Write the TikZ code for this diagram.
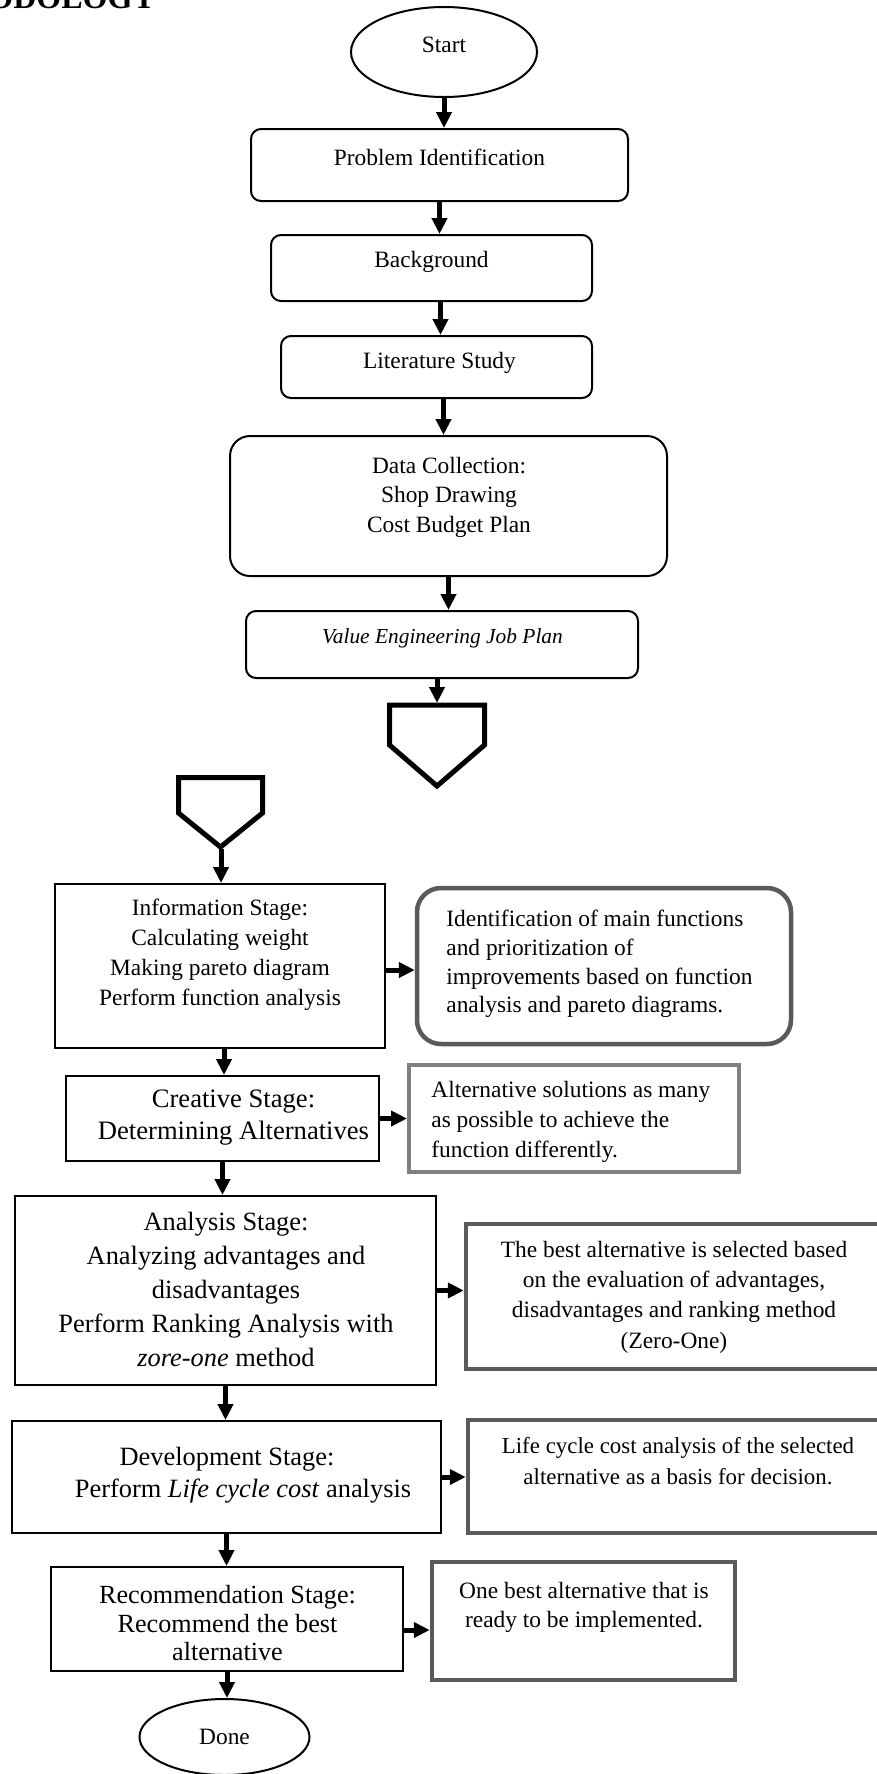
\documentclass[tikz,border=0pt]{standalone}
\usepackage{fontspec}
\setmainfont{Liberation Serif}
\usetikzlibrary{arrows.meta,shapes.geometric,calc}
\definecolor{gA}{HTML}{5A5A5A}
\definecolor{gB}{HTML}{808080}
\newdimen\pxu \pxu=0.5pt
\begin{document}
\begin{tikzpicture}[x=0.5pt,y=-0.5pt,
  arr/.style={line width=2.5pt,-{Triangle[length=8pt,width=7.5pt]}},
  rbox/.style={draw,line width=1pt,rounded corners=5pt,inner sep=0pt},
  sbox/.style={draw,line width=1pt,inner sep=0pt},
  gbox/.style={draw=gA,line width=2.25pt,inner sep=0pt},
  oval/.style={ellipse,draw,line width=1pt,inner sep=0pt},
  txt/.style={inner sep=0pt,align=center},
  fs/.style={font=\fontsize{11.7}{14.6}\selectfont},
  fl/.style={font=\fontsize{13.2}{16.5}\selectfont},
  conn/.style={line width=2.5pt,line join=miter}
]
\fill[white] (0,0) rectangle (877,1774);
\useasboundingbox (0,0) rectangle (877,1774);

% cut-off heading
\node[anchor=base west,inner sep=0pt,font=\bfseries\fontsize{16}{16}\selectfont] (title) at (-12,8) {ODOLOGY};

% ---------- upper part ----------
\node[oval,minimum width=186\pxu,minimum height=90\pxu] (start) at (444,52) {};
\node[txt,fs] (startt) at (444,45) {Start};

\node[rbox,minimum width=377\pxu,minimum height=72\pxu] (prob) at (439.5,165) {};
\node[txt,fs] (probt) at (439.5,157) {Problem Identification};

\node[rbox,minimum width=321\pxu,minimum height=66\pxu] (bg) at (431.5,268) {};
\node[txt,fs] (bgt) at (431.5,262) {Background};

\node[rbox,minimum width=311\pxu,minimum height=62\pxu] (lit) at (436.5,367) {};
\node[txt,fs] (litt) at (439.5,363) {Literature Study};

\node[sbox,rounded corners=10pt,minimum width=437\pxu,minimum height=140\pxu] (data) at (448.5,506) {};
\node[txt,font=\fontsize{11.7}{14.75}\selectfont] (datat) at (449,497) {Data Collection:\\Shop Drawing\\Cost Budget Plan};

\node[rbox,minimum width=392\pxu,minimum height=67\pxu] (ve) at (442,644.5) {};
\node[txt,font=\itshape\fontsize{10.7}{13}\selectfont] (vet) at (442.5,638) {Value Engineering Job Plan};

% off-page connectors
\draw[conn] (389.5,745) -- (389.5,705) -- (484.5,705) -- (484.5,745) -- (437,786) -- cycle;
\coordinate (c1) at (437,703);
\draw[conn] (178.5,813) -- (178.5,777.5) -- (262.5,777.5) -- (262.5,813) -- (220.5,847) -- cycle;
\coordinate (c2) at (221,849);

% ---------- lower part ----------
\node[sbox,minimum width=330\pxu,minimum height=164\pxu] (info) at (220,966) {};
\node[txt,font=\fontsize{11.7}{15}\selectfont] (infot) at (220,955) {Information Stage:\\Calculating weight\\Making pareto diagram\\Perform function analysis};

\node[gbox,rounded corners=12pt,minimum width=374\pxu,minimum height=156\pxu] (r1) at (604,966) {};
\node[inner sep=0pt,align=left,anchor=west,font=\fontsize{11.7}{14.35}\selectfont] (r1t) at (446,964) {Identification of main functions\\and prioritization of\\improvements based on function\\analysis and pareto diagrams.};

\node[sbox,minimum width=313\pxu,minimum height=85\pxu] (cre) at (222.5,1118.5) {};
\node[txt,font=\fontsize{13.3}{16}\selectfont] (cret) at (233.5,1118) {Creative Stage:\\Determining Alternatives};

\node[gbox,draw=gB,line width=2pt,minimum width=330\pxu,minimum height=107\pxu] (r2) at (574,1118.5) {};
\node[inner sep=0pt,align=left,anchor=west,font=\fontsize{11.7}{15}\selectfont] (r2t) at (431,1122) {Alternative solutions as many\\as possible to achieve the\\function differently.};

\node[sbox,minimum width=421\pxu,minimum height=189\pxu] (ana) at (225.5,1290.5) {};
\node[txt,font=\fontsize{13.2}{16.9}\selectfont] (anat) at (226,1289.5) {Analysis Stage:\\Analyzing advantages and\\disadvantages\\Perform Ranking Analysis with\\\textit{zore-one} method};

\node[gbox,minimum width=436\pxu,minimum height=145\pxu] (r3) at (684,1296.5) {};
\node[txt,font=\fontsize{11.7}{15.2}\selectfont] (r3t) at (674,1297) {The best alternative is selected based\\on the evaluation of advantages,\\disadvantages and ranking method\\(Zero-One)};

\node[sbox,minimum width=429\pxu,minimum height=112\pxu] (dev) at (226.5,1477) {};
\node[txt,font=\fontsize{13.2}{16}\selectfont] (devt) at (227,1475) {Development Stage:\\\hspace*{16pt}Perform \textit{Life cycle cost} analysis};

\node[gbox,minimum width=434\pxu,minimum height=113\pxu] (r4) at (685,1476.5) {};
\node[txt,font=\fontsize{11.45}{15.5}\selectfont] (r4t) at (678,1461.5) {Life cycle cost analysis of the selected\\alternative as a basis for decision.};

\node[sbox,minimum width=352\pxu,minimum height=104\pxu] (rec) at (227,1619) {};
\node[txt,font=\fontsize{13.1}{14.25}\selectfont] (rect) at (227.5,1623.5) {Recommendation Stage:\\Recommend the best\\alternative};

\node[gbox,minimum width=303\pxu,minimum height=118\pxu] (r5) at (583.5,1621) {};
\node[txt,font=\fontsize{11.7}{14.5}\selectfont] (r5t) at (584,1607.5) {One best alternative that is\\ready to be implemented.};

\node[oval,minimum width=170\pxu,minimum height=76\pxu] (done) at (224.5,1737) {};
\node[txt,fs] (donet) at (224.5,1737) {Done};

% ---------- connectors ----------
\draw[arr] (start.south) -- (start.south |- prob.north);
\draw[arr] (prob.south) -- (prob.south |- bg.north);
\draw[arr] ([xshift=2pt]lit.north |- bg.south) -- ([xshift=2pt]lit.north);
\draw[arr] ([xshift=-2.5pt]data.north |- lit.south) -- ([xshift=-2.5pt]data.north);
\draw[arr] (data.south) -- (data.south |- ve.north);
\draw[arr] (c1 |- ve.south) -- (c1);
\draw[arr] (c2) -- (c2 |- info.north);
\draw[arr] ([xshift=2pt]info.south) -- ([xshift=2pt]info.south |- cre.north);
\draw[arr] (cre.south) -- (cre.south |- ana.north);
\draw[arr] (ana.south) -- (ana.south |- dev.north);
\draw[arr] (dev.south) -- (dev.south |- rec.north);
\draw[arr] (rec.south) -- (rec.south |- done.north);

\draw[arr] ([yshift=-2pt]info.east) -- ([yshift=-2pt]info.east -| r1.west);
\draw[arr] (cre.east) -- (cre.east -| r2.west);
\draw[arr] (ana.east) -- (ana.east -| r3.west);
\draw[arr] (dev.east) -- (dev.east -| r4.west);
\draw[arr] ([yshift=-5.5pt]rec.east) -- ([yshift=-5.5pt]rec.east -| r5.west);
\end{tikzpicture}
\end{document}
